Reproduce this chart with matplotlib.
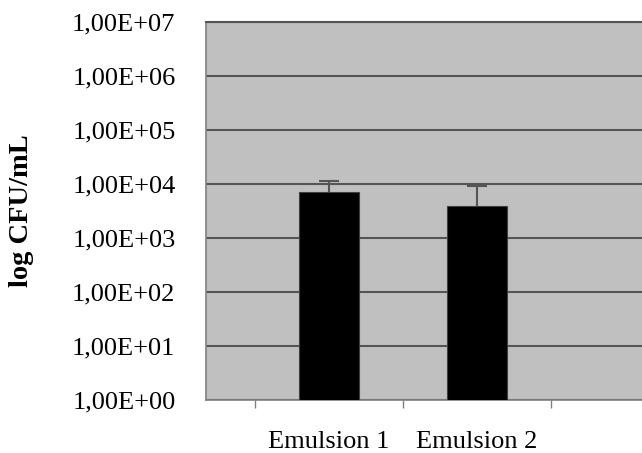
import matplotlib.pyplot as plt
import numpy as np
from matplotlib.ticker import FuncFormatter, FixedLocator

# Datos
categorias = ['Emulsion 1', 'Emulsion 2']
medias = [7.0e3, 3.86e3]          # CFU/mL
error_sup = [4.4e3, 5.3e3]        # solo barra de error superior

plt.rcParams['font.family'] = ['Liberation Serif', 'DejaVu Serif']

fig = plt.figure(figsize=(6.42, 4.53), dpi=100)
ax = fig.add_axes([206/642, 1 - 400/453, 1 - 206/642, 378/453])
ax.set_facecolor('#c0c0c0')

x = np.arange(1, len(categorias) + 1)
medias = np.array(medias)
error_sup = np.array(error_sup)
ax.bar(x, medias, width=0.41, color='black', edgecolor='#404040', linewidth=0.8, zorder=3)
# barra de error solo hacia arriba, con tapa solo arriba
ax.vlines(x, medias, medias + error_sup, color='#555555', linewidth=1.5, zorder=4)
ax.plot(x, medias + error_sup, linestyle='none', marker='_', markersize=14,
        markeredgewidth=1.5, color='#555555', zorder=4)

ax.set_yscale('log')
ax.set_ylim(1, 1e7)
ax.set_xlim(0.169, 3.115)

ax.yaxis.set_major_locator(FixedLocator([10.0**k for k in range(8)]))
ax.yaxis.set_minor_locator(FixedLocator([]))
ax.yaxis.set_major_formatter(FuncFormatter(lambda v, p: '1,00E+%02d' % round(np.log10(v))))
ax.tick_params(axis='y', length=0, pad=22, labelsize=19)
ax.grid(axis='y', color='#555555', linewidth=1.5, zorder=1)

# marcas entre categorias, etiquetas centradas bajo las barras
ax.set_xticks([0.5, 1.5, 2.5])
ax.set_xticklabels(['', '', ''])
ax.set_xticks(x, minor=True)
ax.set_xticklabels(categorias, minor=True)
ax.tick_params(axis='x', which='major', length=6, width=1, color='#808080')
ax.tick_params(axis='x', which='minor', length=0, pad=22, labelsize=19)

for s in ['left', 'bottom', 'top']:
    ax.spines[s].set_color('#808080')
    ax.spines[s].set_linewidth(1.2)
ax.spines['top'].set_color('#555555')
ax.spines['top'].set_linewidth(1.5)
ax.spines['right'].set_visible(False)

fig.text(22/642, 1 - 211/453, 'log CFU/mL', rotation=90, fontsize=20.5, fontweight='bold',
         ha='center', va='center')

fig.savefig('out.png', dpi=100)
